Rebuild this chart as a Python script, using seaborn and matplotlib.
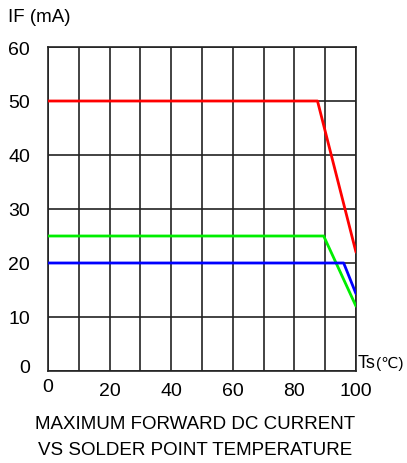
import matplotlib
matplotlib.use("Agg")
import matplotlib.pyplot as plt
from matplotlib.transforms import ScaledTranslation
import seaborn as sns
import pandas as pd

sns.set_theme(style="white")
plt.rcParams['font.family'] = ['Liberation Sans', 'DejaVu Sans']
plt.rcParams['text.color'] = 'black'

# Data
red_x = [0, 87.5, 100]
red_y = [50, 50, 22]
green_x = [0, 89.5, 100]
green_y = [25, 25, 12]
blue_x = [0, 96, 100]
blue_y = [20, 20, 14.3]
x_ticks = [0, 20, 40, 60, 80, 100]
y_ticks = [0, 10, 20, 30, 40, 50, 60]

fig = plt.figure(figsize=(4.07, 4.64), dpi=100)
ax = fig.add_axes([48/407, 92/464, 308/407, 324/464])

for xs, ys, c in [(red_x, red_y, '#ff0000'), (green_x, green_y, '#00ee00'), (blue_x, blue_y, '#0000ff')]:
    df = pd.DataFrame({'x': xs, 'y': ys})
    sns.lineplot(data=df, x='x', y='y', color=c, linewidth=2.0, ax=ax, zorder=3)

ax.set_xlim(0, 100)
ax.set_ylim(0, 60)
ax.set_xticks(range(0, 101, 10))
ax.set_yticks(y_ticks)
ax.set_xticklabels([str(v) if v in x_ticks else '' for v in range(0, 101, 10)])
ax.grid(True, color='#222222', linewidth=1.2)
for s in ax.spines.values():
    s.set_color('#222222')
    s.set_linewidth(1.2)
    s.set_visible(True)
ax.tick_params(axis='both', length=0, labelsize=14, colors='black')
ax.tick_params(axis='y', pad=13)
ax.tick_params(axis='x', pad=8)
ax.set_xlabel('')
ax.set_ylabel('')

# small offsets of the "0" labels as in the reference
xl0 = ax.xaxis.get_major_ticks()[0].label1
xl0.set_transform(xl0.get_transform() + ScaledTranslation(0, 4/100, fig.dpi_scale_trans))
yl0 = ax.yaxis.get_major_ticks()[0].label1
yl0.set_transform(yl0.get_transform() + ScaledTranslation(0, 5/100, fig.dpi_scale_trans))

fig.text(8/407, 1 - 18/464, 'IF (mA)', fontsize=13.5, va='center', ha='left')
ax.text(100.6, 1.5, 'Ts', fontsize=13, va='center', ha='left', transform=ax.transData)
ax.text(106.5, 1.5, '(℃)', fontsize=11, va='center', ha='left', transform=ax.transData)
fig.text(195/407, 1 - 425/464, 'MAXIMUM FORWARD DC CURRENT', fontsize=13.5, ha='center', va='center')
fig.text(195/407, 1 - 451/464, 'VS SOLDER POINT TEMPERATURE', fontsize=13.5, ha='center', va='center')

fig.savefig('out.png', dpi=100)
